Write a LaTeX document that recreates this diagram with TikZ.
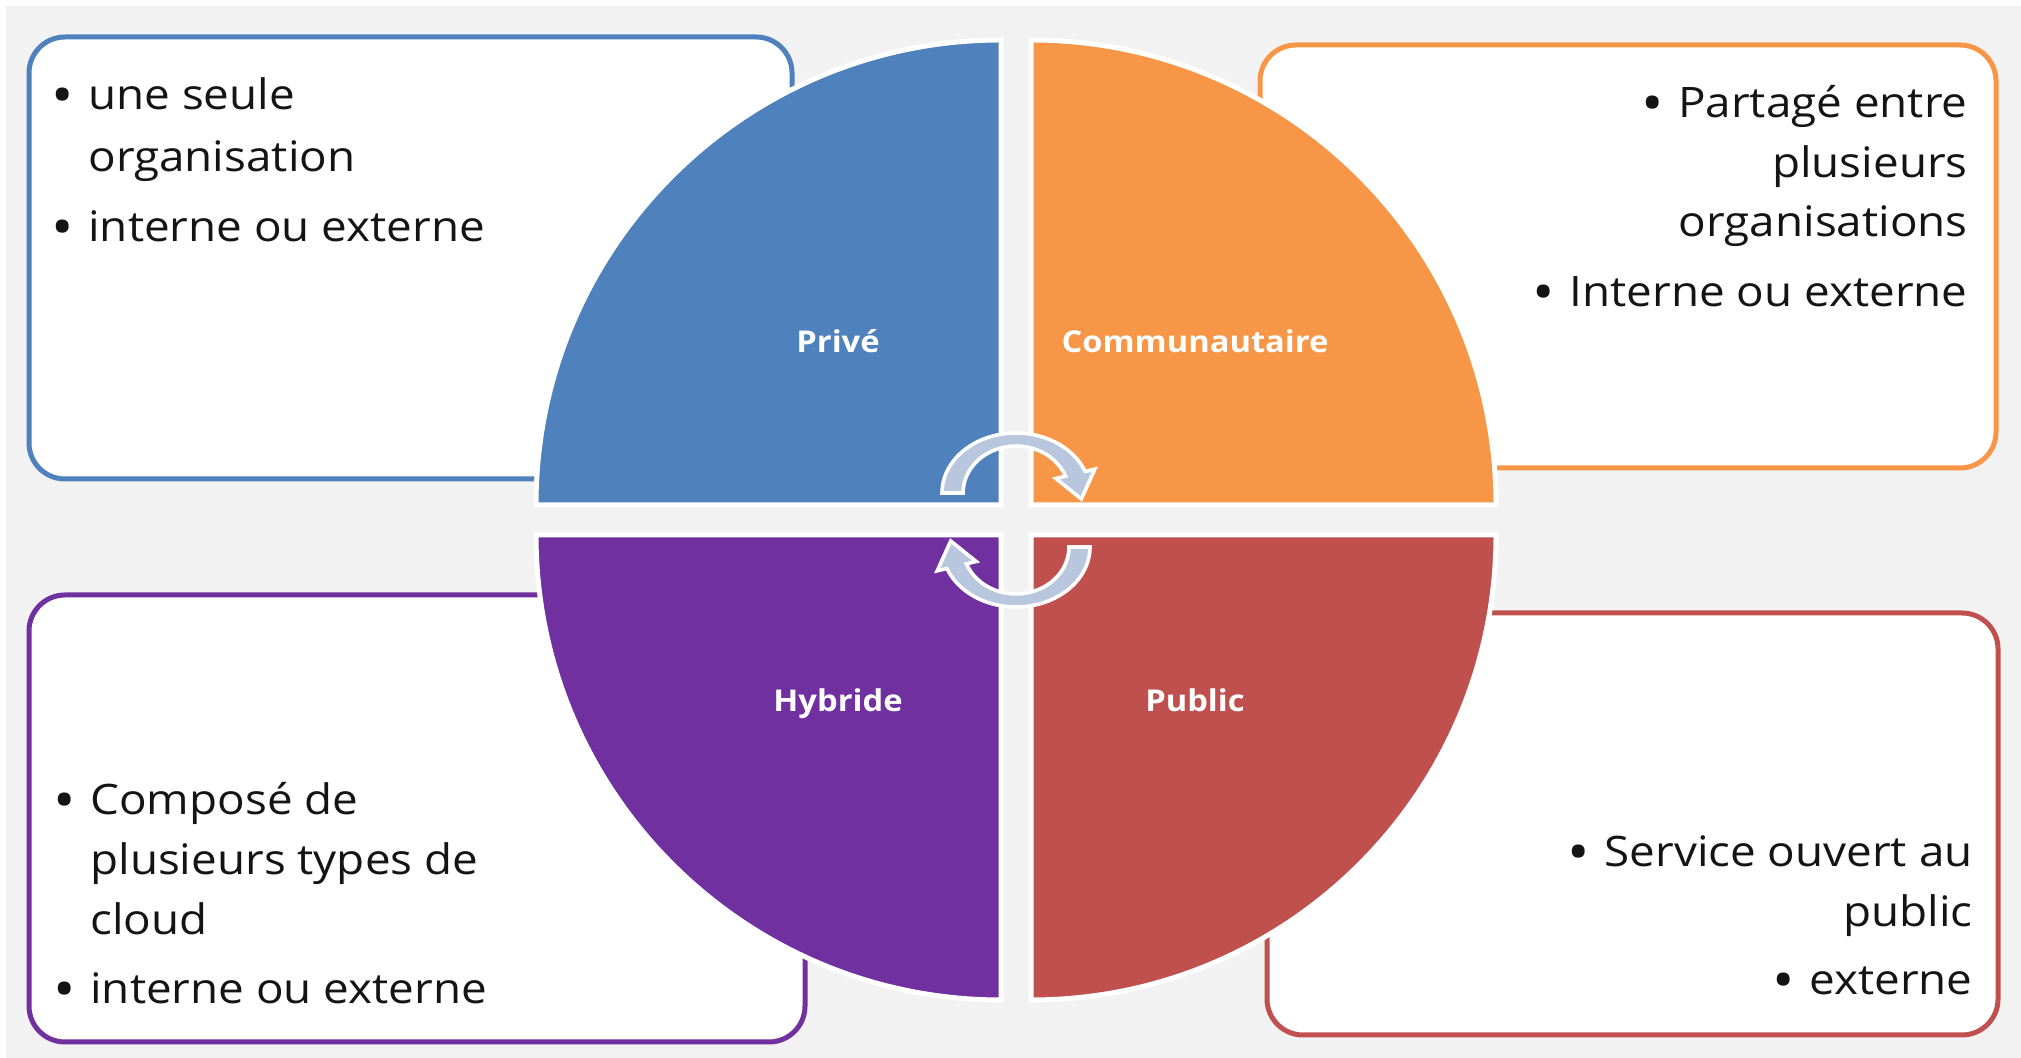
\documentclass[tikz,border=0pt]{standalone}
\usepackage{fontspec}
\setmainfont{Open Sans}[FakeStretch=1.09]
\definecolor{cblue}{RGB}{79,129,189}
\definecolor{corange}{RGB}{247,150,70}
\definecolor{cpurple}{RGB}{112,48,160}
\definecolor{cred}{RGB}{192,80,77}
\definecolor{bgc}{RGB}{242,242,242}
\definecolor{arrowc}{RGB}{184,199,222}
\newcommand\bul{\makebox[0pt][c]{\raisebox{-0.11em}{\scalebox{1.3}{•}}}\hspace{13pt}}
\begin{document}
\begin{tikzpicture}[x=0.5pt,y=0.5pt,
  card/.style={fill=white, line width=2.5pt, rounded corners=18pt},
  quad/.style={draw=white, line width=2.5pt},
  body/.style={inner sep=0pt, font=\fontsize{21pt}{31pt}\selectfont, text=black!92},
  lbl/.style={inner sep=0pt, font=\fontsize{15pt}{18pt}\selectfont\bfseries, text=white, anchor=base},
  cyc/.style={fill=arrowc, draw=white, line width=1.8pt, line join=miter}]
\useasboundingbox (0,0) rectangle (2021,1058);
% background
\fill[bgc] (0,0) rectangle (2021,1058);
\fill[white] (0,0) rectangle (6,1058);
\fill[white] (0,1052) rectangle (2021,1058);
\coordinate (C) at (1016,538);
% text cards
\draw[card, draw=cblue] (29,579) rectangle (792,1021);
\draw[card, draw=corange] (1260,590) rectangle (1996,1013);
\draw[card, draw=cpurple] (29,16) rectangle (805,463);
\draw[card, draw=cred] (1267,23) rectangle (1998,445);
% quadrants
\filldraw[quad, fill=cblue] (1001,553) -- ++(-465,0) arc[start angle=180, end angle=90, radius=465] -- cycle;
\filldraw[quad, fill=corange] (1031,553) -- ++(0,465) arc[start angle=90, end angle=0, radius=465] -- cycle;
\filldraw[quad, fill=cpurple] (1001,523) -- ++(0,-465) arc[start angle=270, end angle=180, radius=465] -- cycle;
\filldraw[quad, fill=cred] (1031,523) -- ++(465,0) arc[start angle=0, end angle=-90, radius=465] -- cycle;
% cycle arrows
\path[cyc] (942,565) arc[start angle=180, end angle=21, x radius=74, y radius=60]
  -- (1094.8,588.8) -- (1081.3,559) -- (1055.8,579.5) -- (1065.5,581.8)
  arc[start angle=21, end angle=180, x radius=53, y radius=47] -- cycle;
\path[cyc, rotate around={180:(C)}] (942,565) arc[start angle=180, end angle=21, x radius=74, y radius=60]
  -- (1094.8,588.8) -- (1081.3,559) -- (1055.8,579.5) -- (1065.5,581.8)
  arc[start angle=21, end angle=180, x radius=53, y radius=47] -- cycle;
% quadrant labels
\node[lbl] (lprive) at (838,705) {Privé};
\node[lbl] (lcomm) at (1195,705) {Communautaire};
\node[lbl] (lhyb) at (838,346) {Hybride};
\node[lbl] (lpub) at (1195,346) {Public};
% blue card text
\node[body, anchor=base west] (t1a) at (62,948) {\bul une seule};
\node[body, anchor=base west] (t1b) at (88,886) {organisation};
\node[body, anchor=base west] (t1c) at (62,816) {\bul interne ou externe};
% orange card text
\node[body, anchor=base east] (t2a) at (1968,940) {\bul Partagé entre};
\node[body, anchor=base east] (t2b) at (1968,880) {plusieurs};
\node[body, anchor=base east] (t2c) at (1968,821) {organisations};
\node[body, anchor=base east] (t2d) at (1968,751) {\bul Interne ou externe};
% purple card text
\node[body, anchor=base west] (t3a) at (64,243) {\bul Composé de};
\node[body, anchor=base west] (t3b) at (90,183) {plusieurs types de};
\node[body, anchor=base west] (t3c) at (90,123) {cloud};
\node[body, anchor=base west] (t3d) at (64,54) {\bul interne ou externe};
% red card text
\node[body, anchor=base east] (t4a) at (1973,191) {\bul Service ouvert au};
\node[body, anchor=base east] (t4b) at (1973,131) {public};
\node[body, anchor=base east] (t4c) at (1973,63) {\bul externe};
\end{tikzpicture}
\end{document}
